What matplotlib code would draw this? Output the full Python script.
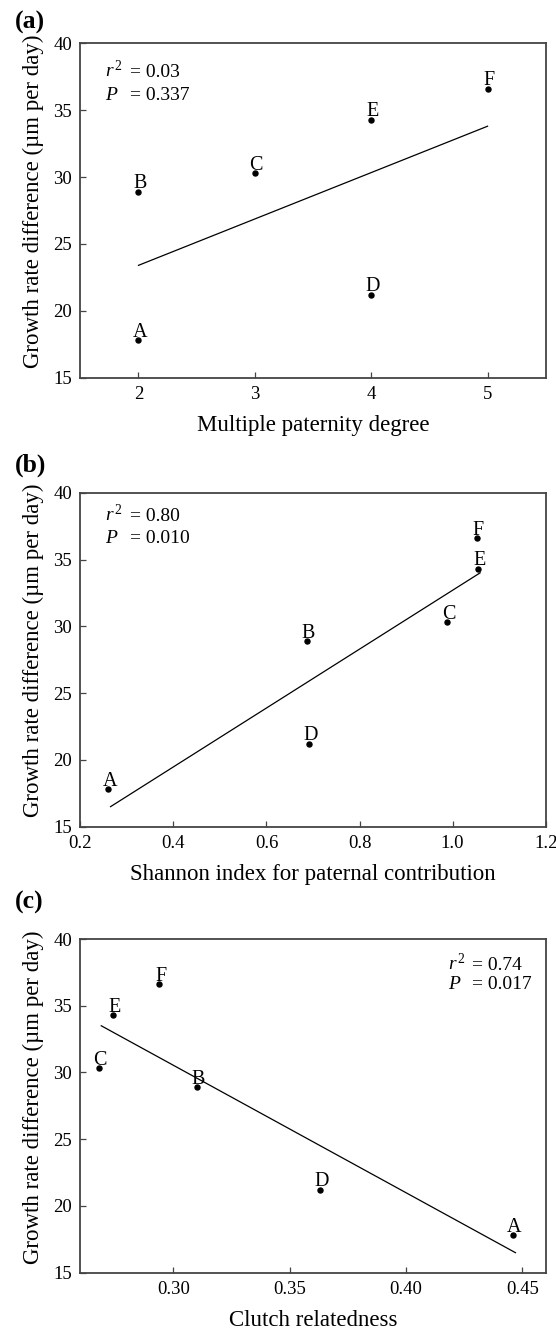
import matplotlib
matplotlib.use('Agg')
import matplotlib.pyplot as plt

# values
groups = ['A', 'B', 'C', 'D', 'E', 'F']
growth = [17.8, 28.9, 30.3, 21.2, 34.3, 36.6]
paternity = [2, 2, 3, 4, 4, 5]
shannon = [0.26, 0.687, 0.988, 0.691, 1.055, 1.052]
relatedness = [0.446, 0.310, 0.268, 0.363, 0.274, 0.294]

# regression lines (end points as drawn)
fit_a_x = [2, 5]
fit_a_y = [23.4, 33.8]
fit_b_x = [0.265, 1.059]
fit_b_y = [16.5, 34.0]
fit_c_x = [0.269, 0.447]
fit_c_y = [33.5, 16.5]

stats_a = ['0.03', '0.337']
stats_b = ['0.80', '0.010']
stats_c = ['0.74', '0.017']

yticks = [15, 20, 25, 30, 35, 40]

plt.rcParams['font.family'] = 'Liberation Serif'
plt.rcParams['mathtext.fontset'] = 'custom'
plt.rcParams['mathtext.rm'] = 'Liberation Serif'
plt.rcParams['mathtext.it'] = 'Liberation Serif:italic'

W, H = 556, 1333
fig = plt.figure(figsize=(W / 100, H / 100), dpi=100)


def make_axes(top, bottom, left=80.3, right=545.7):
    return fig.add_axes([left / W, 1 - bottom / H, (right - left) / W, (bottom - top) / H])


def panel(ax, x, fit_x, fit_y, xlim, xticks, xticklabels, xlabel, stats, sx, sy):
    ax.plot(x, growth, 'o', color='black', markersize=3.6)
    ax.plot(fit_x, fit_y, color='black', linewidth=0.9)
    for xi, yi, g in zip(x, growth, groups):
        ax.annotate(g, (xi, yi), xytext=(1, 2.5), textcoords='offset points',
                    ha='center', va='baseline', fontsize=14.5)
    ax.set_xlim(xlim)
    ax.set_ylim(15, 40)
    ax.set_xticks(xticks)
    ax.set_xticklabels(xticklabels)
    ax.set_yticks(yticks)
    ax.tick_params(direction='in', length=4, width=0.9, labelsize=13.5, pad=6,
                   color='#444444')
    for s in ax.spines.values():
        s.set_color('#444444')
        s.set_linewidth(1.3)
    ax.set_ylabel(u'Growth rate difference (\u00b5m per day)', fontsize=16.5)
    ax.yaxis.set_label_coords(-0.078, 0.527)
    ax.set_xlabel(xlabel, fontsize=16.5)
    ax.xaxis.set_label_coords(0.5, -0.112)
    ax.text(sx[0], sy[0], r'$r^{\,2}$', transform=ax.transAxes, fontsize=14, va='baseline')
    ax.text(sx[1], sy[0], '= ' + stats[0], transform=ax.transAxes, fontsize=14, va='baseline')
    ax.text(sx[0], sy[1], r'$P$', transform=ax.transAxes, fontsize=14, va='baseline')
    ax.text(sx[1], sy[1], '= ' + stats[1], transform=ax.transAxes, fontsize=14, va='baseline')


ax1 = make_axes(43.3, 377.7)
panel(ax1, paternity, fit_a_x, fit_a_y, (1.5, 5.5), [2, 3, 4, 5], ['2', '3', '4', '5'],
      'Multiple paternity degree', stats_a, (0.053, 0.107), (0.899, 0.830))

ax2 = make_axes(492.7, 826.7)
panel(ax2, shannon, fit_b_x, fit_b_y, (0.2, 1.2), [0.2, 0.4, 0.6, 0.8, 1.0, 1.2],
      ['0.2', '0.4', '0.6', '0.8', '1.0', '1.2'],
      'Shannon index for paternal contribution', stats_b, (0.053, 0.107), (0.915, 0.849))

ax3 = make_axes(939, 1272.7)
panel(ax3, relatedness, fit_c_x, fit_c_y, (0.26, 0.46), [0.30, 0.35, 0.40, 0.45],
      ['0.30', '0.35', '0.40', '0.45'],
      'Clutch relatedness', stats_c, (0.789, 0.841), (0.907, 0.850))

for lab, top in [('(a)', 11), ('(b)', 454), ('(c)', 891)]:
    fig.text(15 / W, 1 - top / H, lab, fontsize=18.5, fontweight='bold', va='top', ha='left')

fig.savefig('out.png', dpi=100)
